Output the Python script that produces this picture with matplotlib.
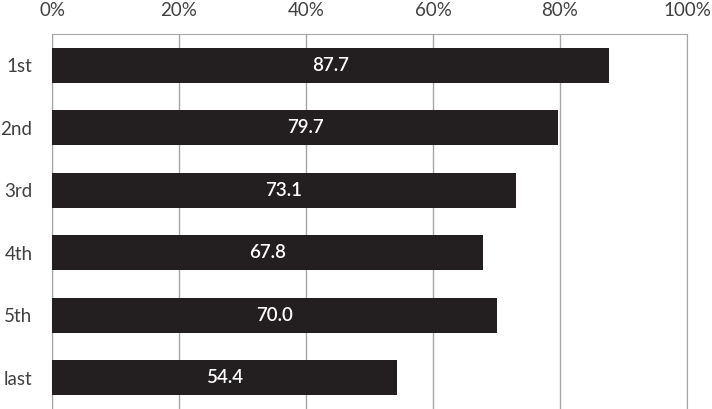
import matplotlib.pyplot as plt
from matplotlib.ticker import FuncFormatter

categories = ["1st", "2nd", "3rd", "4th", "5th", "last"]
values = [87.7, 79.7, 73.1, 67.8, 70.0, 54.4]
ticks = [0, 20, 40, 60, 80, 100]

plt.rcParams['font.family'] = ['Lato', 'DejaVu Sans']

fig = plt.figure(figsize=(7.12, 4.09), dpi=100)
ax = fig.add_axes([52 / 712, 0, 635 / 712, 375 / 409])

pos = list(range(len(categories)))
ax.barh(pos, values, height=0.56, color="#231f20", zorder=3)
for p, v in zip(pos, values):
    ax.text(v / 2, p, f"{v:.1f}", color="white", ha="center", va="center",
            fontsize=13.5, fontweight="semibold", zorder=4)

ax.set_xlim(0, 100)
ax.set_ylim(len(categories) - 0.5, -0.5)
ax.set_xticks(ticks)
ax.xaxis.set_major_formatter(FuncFormatter(lambda v, _: f"{v:.0f}%"))
ax.xaxis.tick_top()
ax.set_yticks(pos)
ax.set_yticklabels(categories)
ax.tick_params(axis="both", length=0, labelsize=13.5, labelcolor="#404040")
ax.tick_params(axis="x", pad=11)
ax.tick_params(axis="y", pad=14)
ax.grid(axis="x", color="#a6a6a6", linewidth=1, zorder=0)
for s in ["top", "left", "right"]:
    ax.spines[s].set_color("#a6a6a6")
ax.spines["bottom"].set_visible(False)

fig.savefig("out.png", dpi=100)
